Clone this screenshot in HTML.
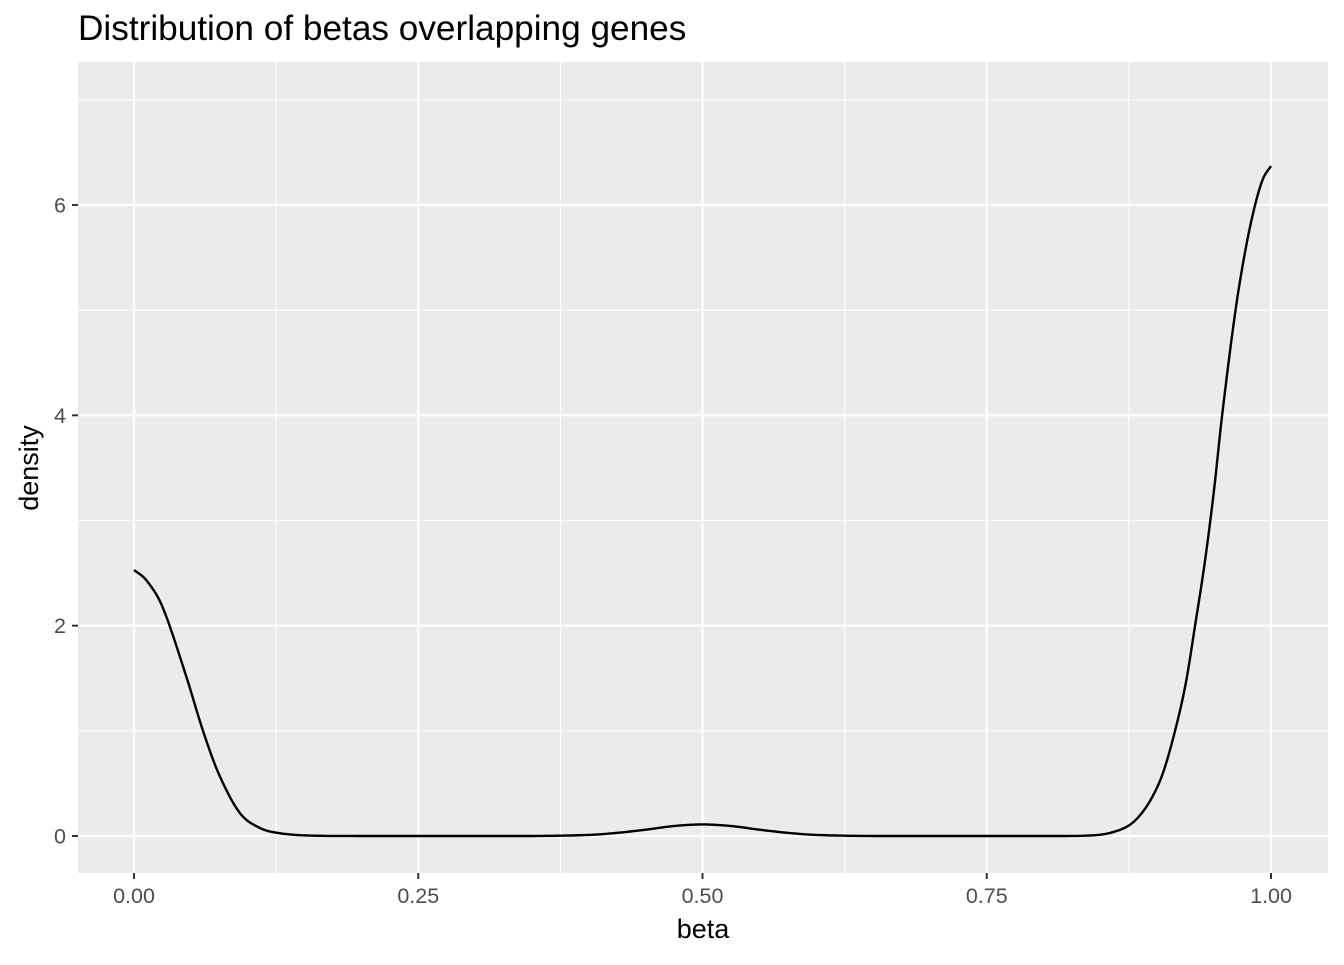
<!DOCTYPE html>
<html><head><meta charset="utf-8"><style>
body{margin:0;background:#fff;}
svg text{font-family:"Liberation Sans",sans-serif;}
</style></head><body>
<svg id="chart" width="1344" height="960" xmlns="http://www.w3.org/2000/svg">
<text x="78" y="40" font-size="35.2" fill="#000">Distribution of betas overlapping genes</text>
<rect x="78" y="62" width="1250" height="811" fill="#ebebeb"/>
<g id="grid"></g>
<path id="curve" fill="none" stroke="#000" stroke-width="2.4"/>
<g id="axes"></g>
<text x="703" y="938" font-size="27" text-anchor="middle">beta</text>
<text transform="translate(38,468) rotate(-90)" font-size="27" text-anchor="middle">density</text>
</svg>
<script>
const xTicks=[0,0.25,0.5,0.75,1];
const xTickLabels=["0.00","0.25","0.50","0.75","1.00"];
const yTicks=[0,2,4,6];
const yTickLabels=["0","2","4","6"];
const betaX=[0,0.011,0.025,0.045,0.061,0.075,0.093,0.11,0.126,0.15,0.2,0.3,0.35,0.4,0.425,0.45,0.475,0.5,0.525,0.55,0.575,0.6,0.65,0.75,0.82,0.848,0.862,0.875,0.885,0.895,0.905,0.9156,0.925,0.9332,0.942,0.95,0.957,0.9688,0.978,0.986,0.993,1];
const densityY=[2.53,2.43,2.18,1.55,0.99,0.58,0.22,0.08,0.03,0.006,0,0,0,0.01,0.03,0.06,0.095,0.11,0.095,0.06,0.03,0.01,0,0,0,0.01,0.04,0.1,0.2,0.36,0.6,1,1.45,2,2.62,3.3,4,5,5.6,6,6.25,6.37];
const NS="http://www.w3.org/2000/svg";
const xs=v=>134+v*(1271-134);
const ys=v=>836-v*(836-205)/6;
const grid=document.getElementById('grid'),axes=document.getElementById('axes');
function ln(g,x1,y1,x2,y2,c,w,name){const l=document.createElementNS(NS,'line');l.setAttribute('x1',x1);l.setAttribute('y1',y1);l.setAttribute('x2',x2);l.setAttribute('y2',y2);l.setAttribute('stroke',c);l.setAttribute('stroke-width',w);


g.appendChild(l);}
function tx(x,y,s,anchor,name){const t=document.createElementNS(NS,'text');t.setAttribute('x',x);t.setAttribute('y',y);t.setAttribute('font-size','21.5');t.setAttribute('fill','#4d4d4d');t.setAttribute('text-anchor',anchor);t.textContent=s;


axes.appendChild(t);}
[0.125,0.375,0.625,0.875].forEach(v=>ln(grid,xs(v),62,xs(v),873,'#fff',1.1,'minor-grid-x'));
[1,3,5,7].forEach(v=>ln(grid,78,ys(v),1328,ys(v),'#fff',1.1,'minor-grid-y'));
xTicks.forEach((v,i)=>{ln(grid,xs(v),62,xs(v),873,'#fff',2.2,'major-grid-x');ln(axes,xs(v),873,xs(v),879,'#333',2,'x-tick');tx(xs(v),903,xTickLabels[i],'middle','x-tick-label');});
yTicks.forEach((v,i)=>{ln(grid,78,ys(v),1328,ys(v),'#fff',2.2,'major-grid-y');ln(axes,72,ys(v),78,ys(v),'#333',2,'y-tick');tx(66,ys(v)+7.5,yTickLabels[i],'end','y-tick-label');});
const P=betaX.map((x,i)=>[xs(x),densityY[i]]);
const n=P.length;let pts=[];
for(let i=0;i<n-1;i++){
 const p0=P[Math.max(0,i-1)],p1=P[i],p2=P[i+1],p3=P[Math.min(n-1,i+2)];
 const m1=(p2[1]-p0[1])/(p2[0]-p0[0]||1)*(p2[0]-p1[0]);
 const m2=(p3[1]-p1[1])/(p3[0]-p1[0]||1)*(p2[0]-p1[0]);
 for(let k=0;k<12;k++){const t=k/12,t2=t*t,t3=t2*t;
  const y=(2*t3-3*t2+1)*p1[1]+(t3-2*t2+t)*m1+(-2*t3+3*t2)*p2[1]+(t3-t2)*m2;
  pts.push([p1[0]+t*(p2[0]-p1[0]),Math.max(0,y)]);}
}
pts.push(P[n-1]);
document.getElementById('curve').setAttribute('d','M'+pts.map(p=>p[0].toFixed(2)+','+ys(p[1]).toFixed(2)).join(' L'));
</script>
</body></html>
